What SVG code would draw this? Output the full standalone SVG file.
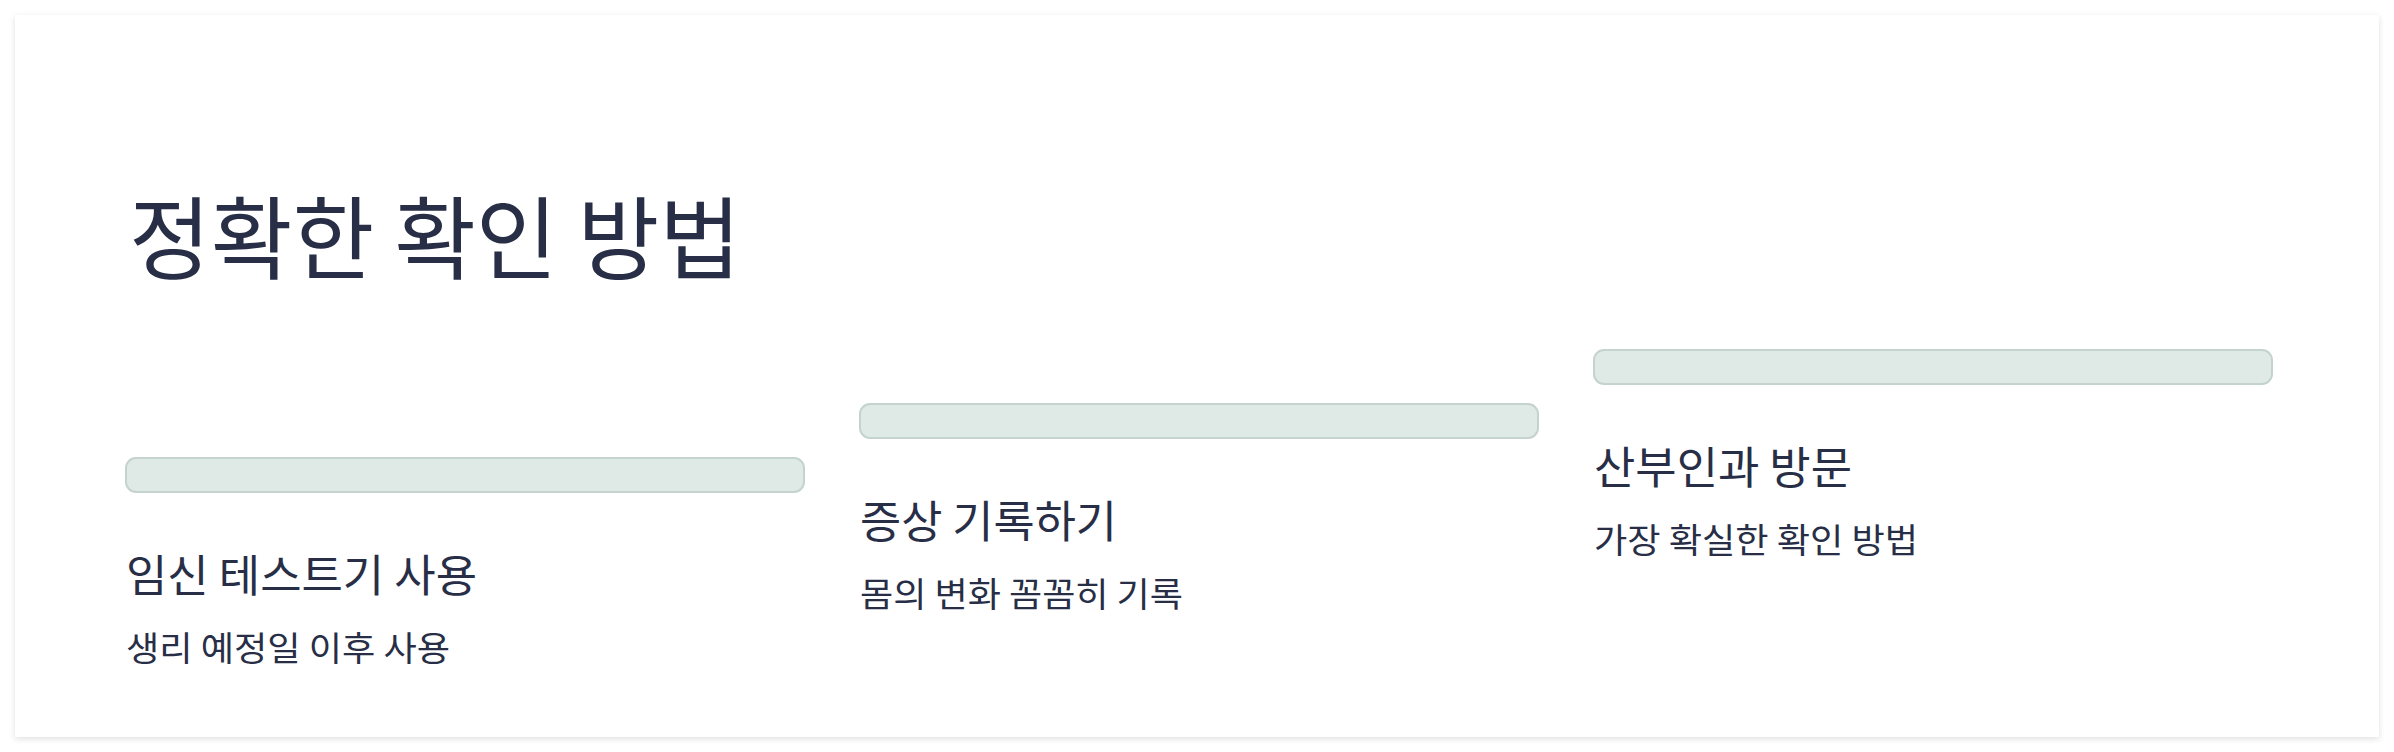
<svg xmlns="http://www.w3.org/2000/svg" width="2394" height="752" viewBox="0 0 2394 752">
<defs>
<filter id="sh" x="-2%" y="-3%" width="104%" height="108%">
<feDropShadow dx="0" dy="2" stdDeviation="3" flood-color="#000" flood-opacity="0.12"/>
</filter>
<style>
text{font-family:"Noto Sans CJK KR","Noto Sans",sans-serif;fill:#272e46}
.h{font-size:90px}
.t{font-size:44px}
.s{font-size:34px}
.bar{fill:#dfeae7;stroke:#c5d3ce;stroke-width:2}
</style>
</defs>
<rect x="15" y="15" width="2364" height="722" fill="#ffffff" filter="url(#sh)"/>
<g id="title"><text class="h" x="129" y="272" textLength="612" lengthAdjust="spacingAndGlyphs">정확한 확인 방법</text></g>
<g id="step1">
<rect class="bar" x="126" y="458" width="678" height="34" rx="10"/>
<text class="t" x="126" y="592" textLength="351" lengthAdjust="spacingAndGlyphs">임신 테스트기 사용</text>
<text class="s" x="126" y="661" textLength="324" lengthAdjust="spacingAndGlyphs">생리 예정일 이후 사용</text>
</g>
<g id="step2">
<rect class="bar" x="860" y="404" width="678" height="34" rx="10"/>
<text class="t" x="860" y="538" textLength="257" lengthAdjust="spacingAndGlyphs">증상 기록하기</text>
<text class="s" x="860" y="607" textLength="323" lengthAdjust="spacingAndGlyphs">몸의 변화 꼼꼼히 기록</text>
</g>
<g id="step3">
<rect class="bar" x="1594" y="350" width="678" height="34" rx="10"/>
<text class="t" x="1594" y="484" textLength="258" lengthAdjust="spacingAndGlyphs">산부인과 방문</text>
<text class="s" x="1594" y="553" textLength="324" lengthAdjust="spacingAndGlyphs">가장 확실한 확인 방법</text>
</g>
<g id="connectors"></g>
</svg>
